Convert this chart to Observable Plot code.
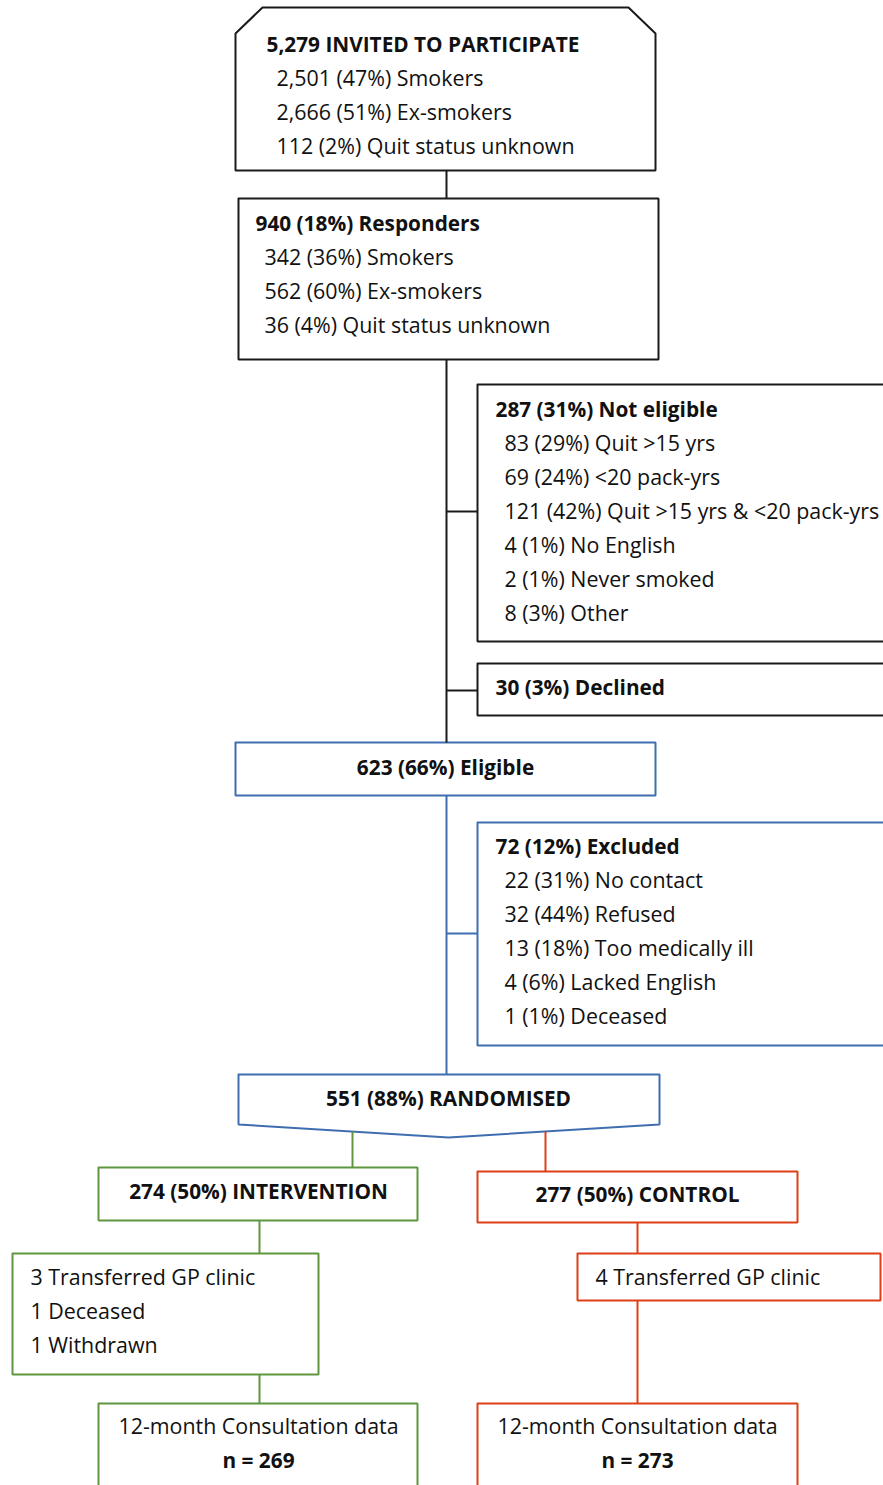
<!DOCTYPE html>
<html><head><meta charset="utf-8">
<script src="https://cdn.jsdelivr.net/npm/d3@7"></script>
<script src="https://cdn.jsdelivr.net/npm/@observablehq/plot@0.6"></script>
<style>html,body{margin:0;padding:0;background:#fff;overflow:hidden}</style>
</head><body><div id="chart"></div>
<script>
// ---- content (text) ----
const invitedHead = "5,279 INVITED TO PARTICIPATE";
const invitedLines = ["2,501 (47%) Smokers", "2,666 (51%) Ex-smokers", "112 (2%) Quit status unknown"];
const responderHead = "940 (18%) Responders";
const responderLines = ["342 (36%) Smokers", "562 (60%) Ex-smokers", "36 (4%) Quit status unknown"];
const notEligibleHead = "287 (31%) Not eligible";
const notEligibleLines = ["83 (29%) Quit >15 yrs", "69 (24%) <20 pack-yrs", "121 (42%) Quit >15 yrs & <20 pack-yrs", "4 (1%) No English", "2 (1%) Never smoked", "8 (3%) Other"];
const declinedHead = "30 (3%) Declined";
const eligibleHead = "623 (66%) Eligible";
const excludedHead = "72 (12%) Excluded";
const excludedLines = ["22 (31%) No contact", "32 (44%) Refused", "13 (18%) Too medically ill", "4 (6%) Lacked English", "1 (1%) Deceased"];
const randomisedHead = "551 (88%) RANDOMISED";
const armHeads = ["274 (50%) INTERVENTION", "277 (50%) CONTROL"];
const interventionLoss = ["3 Transferred GP clinic", "1 Deceased", "1 Withdrawn"];
const controlLoss = ["4 Transferred GP clinic"];
const outcomeLabel = "12-month Consultation data";
const outcomeN = ["n = 269", "n = 273"];

// ---- layout ----
const W = 883, H = 1485, LH = 34;
const COL = {black: "#1a1a1a", blue: "#3F6EB0", green: "#5F9640", red: "#DE3E17"};

function rectPts(id, x0, y0, x1, y1, color) {
  return [[x0,y0],[x1,y0],[x1,y1],[x0,y1],[x0,y0]].map(([x,y]) => ({id, x, y, color}));
}
function polyPts(id, pts, color) { return pts.map(([x,y]) => ({id, x, y, color})); }

const outlines = [
  ...polyPts("invited", [[262,7],[628,7],[655,33],[655,170],[235,170],[235,33],[262,7]], COL.black),
  ...rectPts("responders", 238, 198, 658, 359, COL.black),
  ...rectPts("noteligible", 477, 384, 910, 641, COL.black),
  ...rectPts("declined", 477, 663, 910, 715, COL.black),
  ...rectPts("eligible", 235, 742, 655, 795, COL.blue),
  ...rectPts("excluded", 477, 822, 910, 1045, COL.blue),
  ...polyPts("randomised", [[238,1074],[659,1074],[659,1124],[448,1137],[238,1124],[238,1074]], COL.blue),
  ...rectPts("intervention", 98, 1167, 417, 1220, COL.green),
  ...rectPts("control", 477, 1171, 797, 1222, COL.red),
  ...rectPts("iloss", 12, 1253, 318, 1374, COL.green),
  ...rectPts("closs", 577, 1253, 880, 1300, COL.red),
  ...rectPts("iout", 98, 1403, 417, 1520, COL.green),
  ...rectPts("cout", 477, 1403, 797, 1520, COL.red)
];

const links = [
  {x1:446,y1:170,x2:446,y2:198,color:COL.black},
  {x1:446,y1:359,x2:446,y2:742,color:COL.black},
  {x1:446,y1:511,x2:477,y2:511,color:COL.black},
  {x1:446,y1:690,x2:477,y2:690,color:COL.black},
  {x1:446,y1:795,x2:446,y2:1074,color:COL.blue},
  {x1:446,y1:933,x2:477,y2:933,color:COL.blue},
  {x1:352,y1:1131,x2:352,y2:1167,color:COL.green},
  {x1:259,y1:1220,x2:259,y2:1253,color:COL.green},
  {x1:259,y1:1374,x2:259,y2:1403,color:COL.green},
  {x1:545,y1:1131,x2:545,y2:1171,color:COL.red},
  {x1:637,y1:1222,x2:637,y2:1253,color:COL.red},
  {x1:637,y1:1300,x2:637,y2:1403,color:COL.red}
];

const bold = [], regular = [];
function block(head, lines, hx, hy, lx) {
  if (head) bold.push({x: hx, y: hy, text: head, anchor: "start"});
  lines.forEach((t, i) => regular.push({x: lx, y: hy + LH * (i + 1), text: t, anchor: "start"}));
}
block(invitedHead, invitedLines, 266, 45, 276);
block(responderHead, responderLines, 255, 224, 264);
block(notEligibleHead, notEligibleLines, 495, 410, 504);
block(declinedHead, [], 495, 688, 504);
block(excludedHead, excludedLines, 495, 847, 504);
bold.push({x: 445, y: 768, text: eligibleHead, anchor: "middle"});
bold.push({x: 448, y: 1099, text: randomisedHead, anchor: "middle"});
bold.push({x: 258, y: 1192, text: armHeads[0], anchor: "middle"});
bold.push({x: 637, y: 1195, text: armHeads[1], anchor: "middle"});
interventionLoss.forEach((t, i) => regular.push({x: 30, y: 1278 + LH * i, text: t, anchor: "start"}));
controlLoss.forEach((t, i) => regular.push({x: 595, y: 1278 + LH * i, text: t, anchor: "start"}));
regular.push({x: 258, y: 1427, text: outcomeLabel, anchor: "middle"});
regular.push({x: 637, y: 1427, text: outcomeLabel, anchor: "middle"});
bold.push({x: 258, y: 1461, text: outcomeN[0], anchor: "middle"});
bold.push({x: 637, y: 1461, text: outcomeN[1], anchor: "middle"});

const FONT = "'Open Sans', sans-serif";
const textMarks = (data, weight, fs) => ["start", "middle"].map(a =>
  Plot.text(data.filter(d => d.anchor === a), {
    x: "x", y: "y", text: "text", textAnchor: a, lineAnchor: "middle",
    fontSize: fs, fontWeight: weight, fill: "#111", fontFamily: FONT
  }));

const chart = Plot.plot({
  width: W, height: H,
  margin: 0,
  x: {domain: [0, W], range: [0, W], axis: null},
  y: {domain: [0, H], range: [0, H], axis: null},
  style: {background: "#fff", fontFamily: FONT},
  marks: [
    Plot.line(outlines, {x: "x", y: "y", z: "id", stroke: "color", strokeWidth: 2, strokeLinejoin: "miter", clip: true}),
    Plot.link(links, {x1: "x1", y1: "y1", x2: "x2", y2: "y2", stroke: "color", strokeWidth: 2}),
    ...textMarks(bold, "bold", 20.8),
    ...textMarks(regular, "normal", 21.4)
  ]
});
document.getElementById("chart").appendChild(chart);
</script>
</body></html>
